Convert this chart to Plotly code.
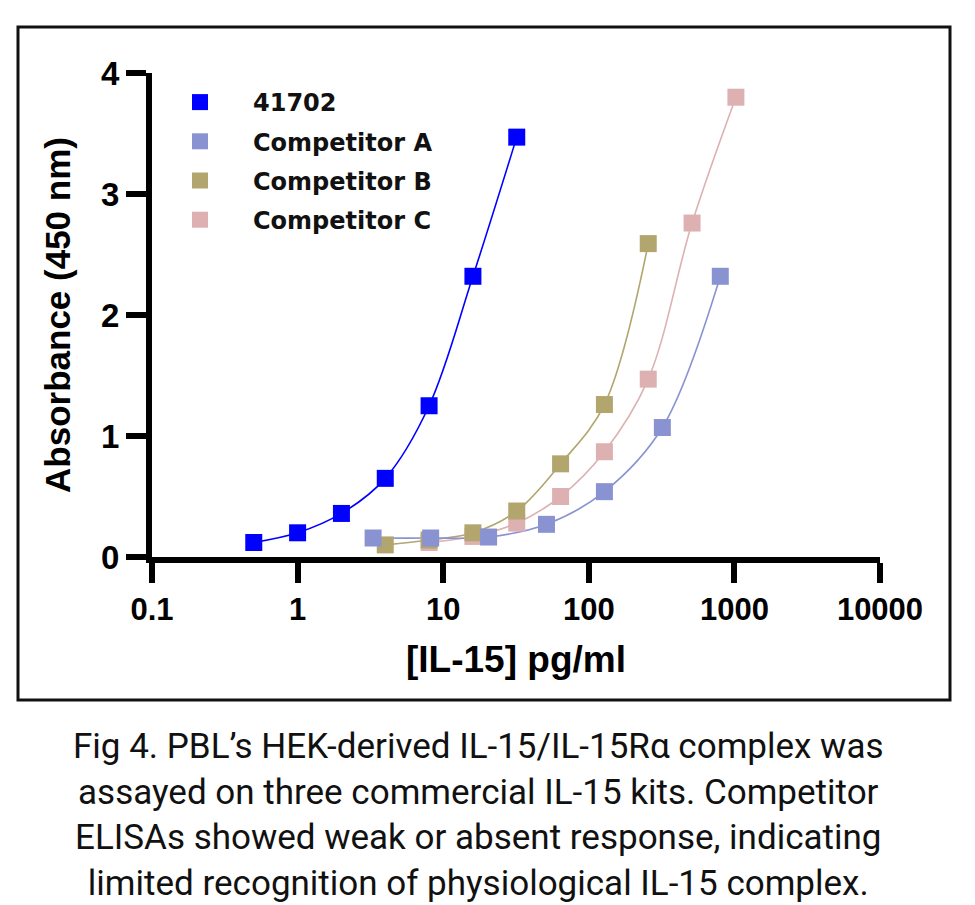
import plotly.graph_objects as go

# ---- data ----
x_41702 = [0.5, 1, 2, 4, 8, 16, 32]
y_41702 = [0.12, 0.20, 0.36, 0.65, 1.25, 2.32, 3.47]

x_compA = [3.3, 8.2, 20.5, 51.2, 128, 320, 800]
y_compA = [0.157, 0.157, 0.165, 0.27, 0.54, 1.07, 2.32]

x_compB = [4, 8, 16, 32, 64, 128, 256]
y_compB = [0.10, 0.14, 0.20, 0.38, 0.77, 1.26, 2.59]

x_compC = [8, 16, 32, 64, 128, 256, 512, 1024]
y_compC = [0.12, 0.17, 0.28, 0.50, 0.87, 1.47, 2.76, 3.80]

series_names = ["41702", "Competitor A", "Competitor B", "Competitor C"]
series_colors = ["#0000FF", "#8A93D2", "#B2A66E", "#DDB1B1"]

x_tickvals = [0.1, 1, 10, 100, 1000, 10000]
x_ticktext = ["0.1", "1", "10", "100", "1000", "10000"]
y_tickvals = [0, 1, 2, 3, 4]

caption = ("Fig 4. PBL\u2019s HEK-derived IL-15/IL-15R\u03b1 complex was<br>"
           "assayed on three commercial IL-15 kits. Competitor<br>"
           "ELISAs showed weak or absent response, indicating<br>"
           "limited recognition of physiological IL-15 complex.")

# ---- figure ----
W, H = 975, 905
L, R, T, B = 152, 95, 73, 348
pw, ph = W - L - R, H - T - B

def px_x(p):
    return (p - L) / pw

def px_y(p):
    return (H - B - p) / ph

fig = go.Figure()

data = {
    "41702": (x_41702, y_41702),
    "Competitor A": (x_compA, y_compA),
    "Competitor B": (x_compB, y_compB),
    "Competitor C": (x_compC, y_compC),
}
draw_order = ["Competitor C", "Competitor B", "Competitor A", "41702"]
# fitted curves (no legend)
for name in draw_order:
    i = series_names.index(name)
    xs, ys = data[name]
    fig.add_trace(go.Scatter(
        x=xs, y=ys, mode="lines", showlegend=False, hoverinfo="skip",
        line=dict(color=series_colors[i], width=1.6, shape="spline", smoothing=1.0),
        cliponaxis=False,
    ))
# data points (legend shows squares only)
for name in draw_order:
    i = series_names.index(name)
    xs, ys = data[name]
    fig.add_trace(go.Scatter(
        x=xs, y=ys, name=name, mode="markers",
        marker=dict(symbol="square", size=17, color=series_colors[i]),
        legendgroup=name, legendrank=i + 1, cliponaxis=False,
    ))

font_main = "Liberation Sans, Arial, sans-serif"

fig.update_layout(
    width=W, height=H,
    margin=dict(l=L, r=R, t=T, b=B, autoexpand=False),
    paper_bgcolor="white", plot_bgcolor="white",
    showlegend=True,
    legend=dict(
        x=px_x(147), y=px_y(80), xanchor="left", yanchor="top",
        bgcolor="rgba(0,0,0,0)", itemwidth=96, tracegroupgap=5,
        font=dict(family="DejaVu Sans, sans-serif", size=24, color="#111111", weight="bold"),
    ),
    xaxis=dict(
        type="log", range=[-1, 4],
        tickvals=x_tickvals, ticktext=x_ticktext,
        showline=True, linewidth=6, linecolor="black",
        ticks="outside", ticklen=20, tickwidth=6, tickcolor="black",
        showgrid=False, zeroline=False,
        tickfont=dict(family=font_main, size=31, color="black", weight="bold"),
        title=dict(text="[IL-15] pg/ml", standoff=22,
                   font=dict(family=font_main, size=37, color="black", weight="bold")),
    ),
    yaxis=dict(
        range=[0, 4], tickvals=y_tickvals,
        showline=True, linewidth=6, linecolor="black",
        ticks="outside", ticklen=20, tickwidth=6, tickcolor="black",
        showgrid=False, zeroline=False,
        tickfont=dict(family=font_main, size=33, color="black", weight="bold"),
        title=dict(text="Absorbance (450 nm)", standoff=22,
                   font=dict(family=font_main, size=35, color="black", weight="bold")),
    ),
)

# outer frame around chart
fig.add_shape(type="rect", xref="paper", yref="paper",
              x0=px_x(18), x1=px_x(950), y0=px_y(700), y1=px_y(27),
              line=dict(color="#111111", width=3), fillcolor="rgba(0,0,0,0)", layer="below")

# caption
fig.add_annotation(
    xref="paper", yref="paper", x=px_x(478), y=px_y(724), xanchor="center", yanchor="top",
    text=caption, showarrow=False, align="center",
    font=dict(family="Roboto, Liberation Sans, sans-serif", size=35, color="#111111"),
)

fig.write_html("out.html")
